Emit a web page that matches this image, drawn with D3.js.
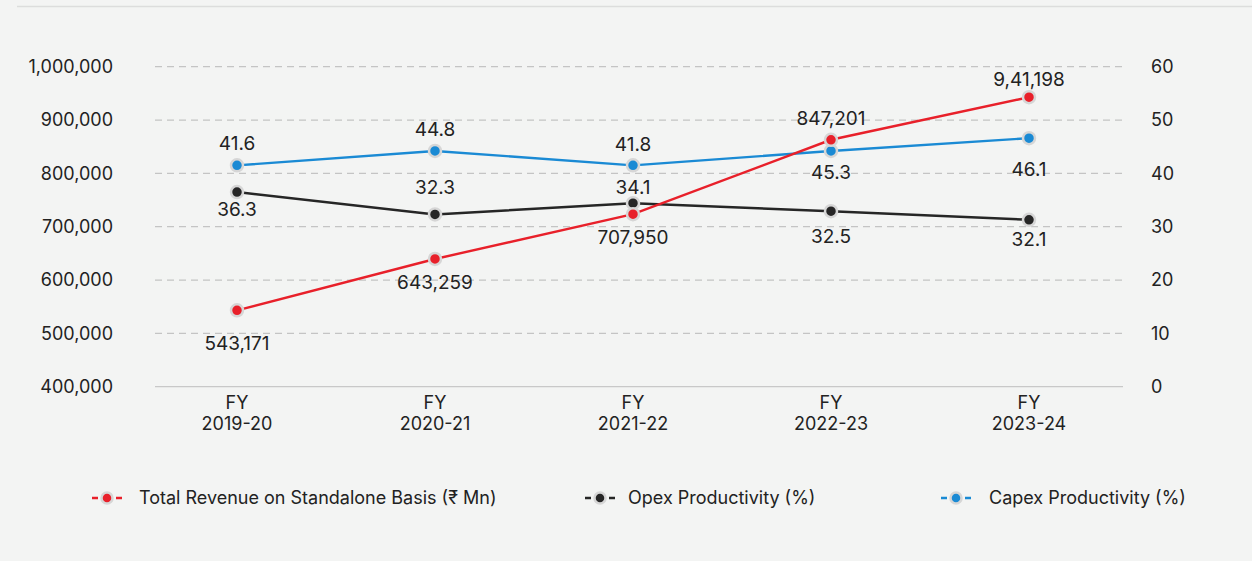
<!DOCTYPE html>
<html>
<head>
<meta charset="utf-8">
<script src="https://cdn.jsdelivr.net/npm/d3@7/dist/d3.min.js"></script>
<style>
  html, body { margin: 0; padding: 0; background: #f3f4f3; }
  svg { display: block; }
  text { font-family: Inter, "Noto Sans", sans-serif; fill: #222; }
</style>
</head>
<body>
<svg id="chart" width="1252" height="561"></svg>
<script>
const categories = ["FY 2019-20", "FY 2020-21", "FY 2021-22", "FY 2022-23", "FY 2023-24"];
const revenue = [543171, 639500, 723400, 863000, 942800];
const revenueLabels = ["543,171", "643,259", "707,950", "847,201", "9,41,198"];
const opex = [36.5, 32.3, 34.4, 32.9, 31.3];
const opexLabels = ["36.3", "32.3", "34.1", "32.5", "32.1"];
const capex = [41.5, 44.2, 41.5, 44.2, 46.6];
const capexLabels = ["41.6", "44.8", "41.8", "45.3", "46.1"];
const leftTicks = [400000, 500000, 600000, 700000, 800000, 900000, 1000000];
const rightTicks = [0, 10, 20, 30, 40, 50, 60];
const seriesNames = ["Total Revenue on Standalone Basis (\u20B9 Mn)", "Opex Productivity (%)", "Capex Productivity (%)"];

// layout (label offsets relative to point)
const revDy = [33, 23, 23, -21, -18];
const opexDy = [17, -27, -16, 25, 20];
const capexDy = [-22, -22, -21, 21, 31];

const svg = d3.select("#chart");
const W = 1252, H = 561;
const plotTop = 66.7, plotBottom = 386.7, gridL = 155, gridR = 1123;
const FS = "18px", LFS = "19px";

svg.append("line").attr("x1", 17).attr("x2", W).attr("y1", 6.5).attr("y2", 6.5)
  .attr("stroke", "#dcdddc").attr("stroke-width", 1.5);

const x = d3.scaleBand().domain(categories).range([138, 1128]);
const cx = d => x(d) + x.bandwidth() / 2;
const yL = d3.scaleLinear().domain([400000, 1000000]).range([plotBottom, plotTop]);
const yR = d3.scaleLinear().domain([0, 60]).range([plotBottom, plotTop]);

// grid
const g = svg.append("g");
leftTicks.forEach(t => {
  g.append("line").attr("x1", gridL).attr("x2", gridR).attr("y1", yL(t)).attr("y2", yL(t))
    .attr("stroke", t === 400000 ? "#c8c8c8" : "#c4c4c4").attr("stroke-width", 1.2)
    .attr("stroke-dasharray", t === 400000 ? null : "7,5");
});

// left axis
const fmt = d3.format(",");
const axL = d3.axisLeft(yL).tickValues(leftTicks).tickFormat(fmt).tickSize(0).tickPadding(0);
svg.append("g").attr("transform", "translate(113,0)").call(axL)
  .call(s => s.select(".domain").remove())
  .selectAll("text").style("font-size", FS).attr("fill", "#222")
  .style("font-family", "Inter, 'Noto Sans', sans-serif");

const axR = d3.axisRight(yR).tickValues(rightTicks).tickSize(0).tickPadding(0);
svg.append("g").attr("transform", "translate(1151,0)").call(axR)
  .call(s => s.select(".domain").remove())
  .selectAll("text").style("font-size", FS).attr("fill", "#222")
  .style("font-family", "Inter, 'Noto Sans', sans-serif");

// x labels
const xl = svg.append("g");
categories.forEach(c => {
  const parts = c.split(" ");
  const t = xl.append("text").attr("x", cx(c)).attr("text-anchor", "middle").style("font-size", FS);
  t.append("tspan").attr("x", cx(c)).attr("y", 409).text(parts[0]);
  t.append("tspan").attr("x", cx(c)).attr("y", 430).text(parts[1]);
});

const colors = ["#e8202a", "#262626", "#1a8ad4"];

function drawSeries(vals, scale, color) {
  const line = d3.line().x((d, i) => cx(categories[i])).y(d => scale(d));
  svg.append("path").attr("d", line(vals)).attr("fill", "none").attr("stroke", color).attr("stroke-width", 2.4);
  vals.forEach((v, i) => {
    svg.append("circle").attr("cx", cx(categories[i])).attr("cy", scale(v)).attr("r", 6)
      .attr("fill", color).attr("stroke", "#d6d6d6").attr("stroke-width", 2.5);
  });
}
function drawLabels(vals, labels, dys, scale) {
  vals.forEach((v, i) => {
    svg.append("text").attr("x", cx(categories[i])).attr("y", scale(v) + dys[i])
      .attr("dy", "0.35em").attr("text-anchor", "middle").style("font-size", LFS).text(labels[i]);
  });
}
drawSeries(capex, yR, colors[2]);
drawSeries(opex, yR, colors[1]);
drawSeries(revenue, yL, colors[0]);
drawLabels(capex, capexLabels, capexDy, yR);
drawLabels(opex, opexLabels, opexDy, yR);
drawLabels(revenue, revenueLabels, revDy, yL);

// legend
const legX = [107, 600, 956];
seriesNames.forEach((n, i) => {
  const lg = svg.append("g").attr("transform", `translate(${legX[i]},498)`);
  lg.append("line").attr("x1", -15).attr("x2", 15).attr("stroke", colors[i]).attr("stroke-width", 2.4)
    .attr("stroke-dasharray", "6,6");
  lg.append("circle").attr("r", 5.5).attr("fill", colors[i]).attr("stroke", "#d6d6d6").attr("stroke-width", 2.5);
  lg.append("text").attr("x", i === 0 ? 32 : (i === 1 ? 28 : 33)).attr("dy", "0.35em").style("font-size", FS).text(n);
});
</script>
</body>
</html>
